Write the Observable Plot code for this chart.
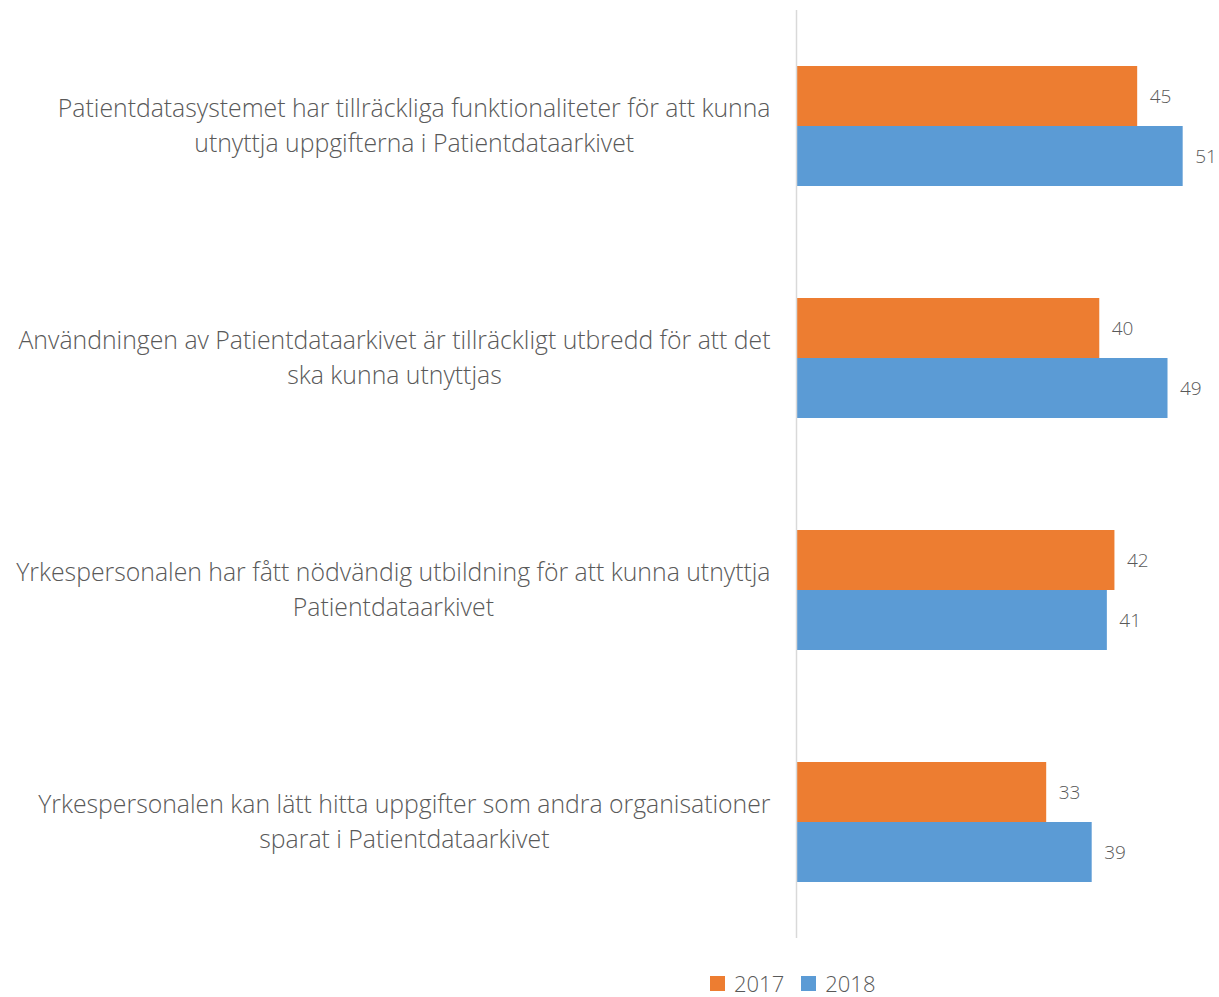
<!DOCTYPE html>
<html>
<head>
<meta charset="utf-8">
<script src="https://cdn.jsdelivr.net/npm/d3@7"></script>
<script src="https://cdn.jsdelivr.net/npm/@observablehq/plot@0.6"></script>
<style>
  body { margin: 0; background: #fff; font-family: "Open Sans", sans-serif; }
  #chart { position: relative; width: 1219px; height: 997px; }
  .legend { position: absolute; left: 710px; top: 971px; display: flex; align-items: center; font-size: 22px; line-height: 24px; color: #595959; font-weight: 300; }
  .legend .item { display: flex; align-items: center; margin-right: 17px; }
  .legend .sw { width: 15px; height: 15px; margin-right: 9px; }
</style>
</head>
<body>
<div id="chart"></div>
<script>
const categories = [
  "Patientdatasystemet har tillräckliga funktionaliteter för att kunna\nutnyttja uppgifterna i Patientdataarkivet",
  "Användningen av Patientdataarkivet är tillräckligt utbredd för att det\nska kunna utnyttjas",
  "Yrkespersonalen har fått nödvändig utbildning för att kunna utnyttja\nPatientdataarkivet",
  "Yrkespersonalen kan lätt hitta uppgifter som andra organisationer\nsparat i Patientdataarkivet"
];
const years = ["2017", "2018"];
const values2017 = [45, 40, 42, 33];
const values2018 = [51, 49, 41, 39];
const colors = ["#ED7D31", "#5B9BD5"];

const data = [];
categories.forEach((c, i) => {
  data.push({category: c, year: years[0], value: values2017[i]});
  data.push({category: c, year: years[1], value: values2018[i]});
});

const labelSize = 24.8;
const ctx = document.createElement("canvas").getContext("2d");
ctx.font = `300 ${labelSize}px 'Open Sans'`;
const blockWidth = c => Math.max(...c.split("\n").map(l => ctx.measureText(l).width));

const labelMarks = categories.map(c => Plot.text([c], {
  fy: d => d, text: d => d, frameAnchor: "left", textAnchor: "middle",
  dx: -26 - blockWidth(c) / 2, dy: -3, fontSize: labelSize, lineHeight: 1.41, fill: "#595959", fontWeight: 300
}));

const plot = Plot.plot({
  width: 1219,
  height: 945,
  marginLeft: 796,
  marginRight: 6,
  marginTop: 10,
  marginBottom: 7,
  style: {fontFamily: "'Open Sans', sans-serif", color: "#595959", background: "#fff"},
  x: {domain: [0, 55], axis: null},
  y: {domain: years, paddingInner: 0, paddingOuter: 0.915, axis: null},
  fy: {domain: categories, padding: 0, axis: null},
  color: {domain: years, range: colors},
  marks: [
    Plot.barX(data, {x: "value", y: "year", fy: "category", fill: "year"}),
    Plot.ruleX([0], {stroke: "#d9d9d9", strokeWidth: 1.5}),
    Plot.text(data, {x: "value", y: "year", fy: "category", text: d => String(d.value), textAnchor: "start", dx: 12, fontSize: 19, fill: "#595959", fontWeight: 300}),
    ...labelMarks
  ]
});
const chart = document.getElementById("chart");
chart.appendChild(plot);

const legend = document.createElement("div");
legend.className = "legend";
years.forEach((y, i) => {
  const item = document.createElement("div");
  item.className = "item";
  const sw = document.createElement("span");
  sw.className = "sw";
  sw.style.background = colors[i];
  const t = document.createElement("span");
  t.textContent = y;
  item.appendChild(sw); item.appendChild(t);
  legend.appendChild(item);
});
chart.appendChild(legend);
</script>
</body>
</html>
